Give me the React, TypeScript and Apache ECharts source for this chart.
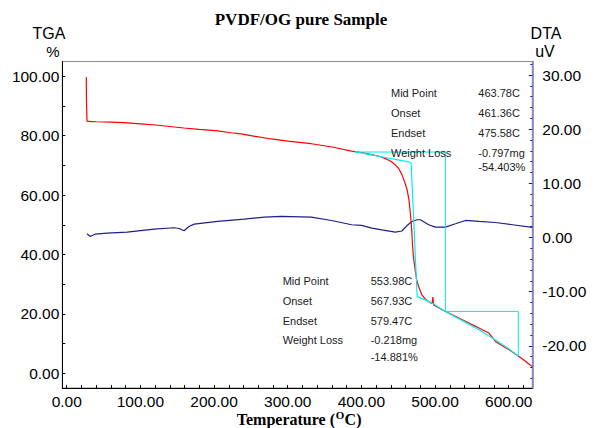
import React, { useEffect, useRef } from "react";
import * as echarts from "echarts";

// ---------- data ----------
const xLabelValues = [0, 100, 200, 300, 400, 500, 600];
const xTickValues = [0, 20, 40, 60, 80, 100, 120, 140, 160, 180, 200, 220, 240, 260, 280, 300, 320, 340, 360, 380, 400, 420, 440, 460, 480, 500, 520, 540, 560, 580, 600, 620];
const tgaLabelValues = [0, 20, 40, 60, 80, 100];
const tgaTickValues = [0, 10, 20, 30, 40, 50, 60, 70, 80, 90, 100];
const dtaLabelValues = [-20, -10, 0, 10, 20, 30];
const dtaMinorTickValues = [-26, -24, -22, -18, -16, -14, -12, -8, -6, -4, -2, 2, 4, 6, 8, 12, 14, 16, 18, 22, 24, 26, 28, 32];

const X_MIN = -6;
const X_MAX = 632;
const TGA_MIN = -5;
const TGA_MAX = 105;
const DTA_MIN = -27.8;
const DTA_MAX = 32.5;

// TGA (%) vs temperature
const tgaCurve: [number, number][] = [
  [26.6, 99.8], [26.8, 92], [27.5, 85.0], [29, 84.8], [40, 84.7], [60, 84.6], [77.5, 84.4],
  [100, 84.0], [120.7, 83.6], [140, 83.1], [159, 82.6], [180, 82.1], [205, 81.6], [223, 81.0],
  [237, 80.6], [250, 80.0], [277.6, 78.9], [300, 78.2], [332, 77.3], [360, 76.2], [386.7, 74.8],
  [400, 74.3], [414, 73.6], [425, 73.0], [434.5, 72.1], [441, 71.2], [446, 70.2], [451, 68.8],
  [455, 66.9], [459, 64.2], [462, 61.8], [464.5, 58.5], [466, 55], [467.5, 51], [468.5, 47.3],
  [469.5, 42.7], [471, 38.5], [473, 34.8], [475, 31.5], [477.7, 29.2], [482, 26.4], [486, 25.2],
  [491.4, 24.1], [496, 23.4], [497, 25.6], [498, 23.0], [503, 22.3], [514, 20.8], [525, 19.5],
  [537, 18.0], [548, 16.6], [559.6, 15.2], [566, 14.4], [573, 13.5], [577, 12.3], [582, 10.7],
  [590, 9.4], [600.5, 7.9], [607, 6.8], [614, 5.6], [620, 4.5], [627, 3.2], [632, 2.2],
];

// DTA (uV) vs temperature
const dtaCurve: [number, number][] = [
  [27.5, 0.68], [32, 0.18], [38.9, 0.63], [54.8, 0.81], [82, 1.0], [118.4, 1.55], [145.7, 1.8],
  [152.5, 1.66], [159.3, 1.24], [166, 2.03], [173, 2.47], [205, 2.96], [241, 3.4], [268.5, 3.77],
  [291, 3.88], [332, 3.77], [359.5, 3.14], [386.7, 2.35], [400.4, 2.22], [414, 1.74], [427.7, 1.42],
  [446, 1.0], [455, 1.2], [462, 2.2], [468.6, 2.96], [475.5, 3.27], [480, 3.27], [491.4, 2.35],
  [500.4, 1.92], [514, 1.92], [527.7, 2.53], [541.3, 3.14], [559.6, 2.96], [582, 2.77], [605, 2.35],
  [632, 1.85],
];

// analysis construction lines (TGA scale)
const step1Box: [number, number][] = [[391, 74.5], [514, 74.5], [514, 20.8]];
const step1Tangent: [number, number][] = [[391, 74.6], [464, 71.2], [467.5, 70.8], [475.7, 25.8], [486.8, 24.7], [495.9, 23.6], [514, 20.8]];
const step2Box: [number, number][] = [[514, 20.8], [613, 20.8], [613, 5.8]];
const step2Tangent: [number, number][] = [[514, 20.8], [537, 17.7], [559.6, 14.6], [582, 11.2], [600.5, 8.1], [613, 5.8]];

const step1Labels = ["Mid Point", "Onset", "Endset", "Weight Loss"];
const step1Values = ["463.78C", "461.36C", "475.58C", "-0.797mg", "-54.403%"];
const step2Labels = ["Mid Point", "Onset", "Endset", "Weight Loss"];
const step2Values = ["553.98C", "567.93C", "579.47C", "-0.218mg", "-14.881%"];

// ---------- chart ----------
const SANS = "'Liberation Sans', Arial, sans-serif";
const SERIF = "'Liberation Serif', 'Times New Roman', serif";
const fmt = (v: number) => Number(v).toFixed(2);

function annotationBlock(labels: string[], values: string[], lx: number, vx: number, ys: number[]) {
  const els: any[] = [];
  labels.forEach((t, i) => {
    els.push({
      type: "text", x: lx, y: ys[i], z: 100,
      style: { text: t, font: `11px ${SANS}`, fill: "#1a1a1a", align: "left", verticalAlign: "middle" },
    });
  });
  values.forEach((t, i) => {
    els.push({
      type: "text", x: vx, y: ys[i], z: 100,
      style: { text: t, font: `11px ${SANS}`, fill: "#1a1a1a", align: "left", verticalAlign: "middle" },
    });
  });
  return els;
}

export default function App() {
  const ref = useRef<HTMLDivElement>(null);
  useEffect(() => {
    if (!ref.current) return;
    const chart = echarts.init(ref.current, undefined, { renderer: "svg" });
    const tickLabel = { fontSize: 15.5, fontFamily: SANS, color: "#000" };
    const option: any = {
      animation: false,
      backgroundColor: "#ffffff",
      grid: {
        left: 62.3, right: 62.7, top: 61.5, bottom: 40,
        show: true, borderColor: "#8c8c8c", borderWidth: 1,
        outerBoundsMode: "none",
      },
      xAxis: {
        type: "value", min: X_MIN, max: X_MAX,
        axisLine: { show: true, onZero: false, lineStyle: { color: "#000", width: 1 } },
        axisTick: { show: true, inside: true, length: 3, customValues: xTickValues, lineStyle: { color: "#000" } },
        axisLabel: { ...tickLabel, customValues: xLabelValues, formatter: fmt, margin: 5.5 },
        splitLine: { show: false },
      },
      yAxis: [
        {
          type: "value", position: "left", min: TGA_MIN, max: TGA_MAX,
          axisLine: { show: true, onZero: false, lineStyle: { color: "#000", width: 1 } },
          axisTick: { show: true, inside: true, length: 3, customValues: tgaTickValues, lineStyle: { color: "#000" } },
          axisLabel: { ...tickLabel, customValues: tgaLabelValues, formatter: fmt, margin: 3 },
          splitLine: { show: false },
        },
        {
          type: "value", position: "right", min: DTA_MIN, max: DTA_MAX,
          axisLine: { show: true, onZero: false, lineStyle: { color: "#8080c8", width: 1.6 } },
          axisTick: { show: true, inside: true, length: 3.5, customValues: dtaLabelValues, lineStyle: { color: "#1e1e8c" } },
          axisLabel: { ...tickLabel, customValues: dtaLabelValues, formatter: fmt, margin: 10 },
          splitLine: { show: false },
        },
        {
          type: "value", position: "right", min: DTA_MIN, max: DTA_MAX,
          axisLine: { show: false, onZero: false },
          axisTick: { show: true, inside: true, length: 2, customValues: dtaMinorTickValues, lineStyle: { color: "#1e1e8c" } },
          axisLabel: { show: false },
          splitLine: { show: false },
        },
      ],
      series: [
        {
          name: "DTA", type: "line", yAxisIndex: 1, data: dtaCurve, showSymbol: false, symbol: "none",
          lineStyle: { color: "#1e1e8c", width: 1.2 }, z: 2,
        },
        {
          name: "TGA", type: "line", yAxisIndex: 0, data: tgaCurve, showSymbol: false, symbol: "none",
          lineStyle: { color: "#ff0000", width: 1.2 }, z: 3,
        },
        {
          type: "line", yAxisIndex: 0, data: step1Tangent, symbol: "none",
          lineStyle: { color: "#00f0f0", width: 1.2 }, z: 4,
        },
        {
          type: "line", yAxisIndex: 0, data: step1Box, symbol: "none",
          lineStyle: { color: "#00e8e8", width: 1 }, z: 4,
        },
        {
          type: "line", yAxisIndex: 0, data: step2Tangent, symbol: "none",
          lineStyle: { color: "#00f0f0", width: 1.2 }, z: 4,
        },
        {
          type: "line", yAxisIndex: 0, data: step2Box, symbol: "none",
          lineStyle: { color: "#00e8e8", width: 1 }, z: 4,
        },
      ],
      graphic: [
        {
          type: "text", x: 301, y: 19,
          style: { text: "PVDF/OG pure Sample", font: `bold 17px ${SERIF}`, fill: "#000", align: "center", verticalAlign: "middle" },
        },
        {
          type: "text", x: 49, y: 33.5,
          style: { text: "TGA", font: `16px ${SANS}`, fill: "#000", align: "center", verticalAlign: "middle" },
        },
        {
          type: "text", x: 53, y: 51.5,
          style: { text: "%", font: `15px ${SANS}`, fill: "#000", align: "center", verticalAlign: "middle" },
        },
        {
          type: "text", x: 546, y: 33.5,
          style: { text: "DTA", font: `16px ${SANS}`, fill: "#000", align: "center", verticalAlign: "middle" },
        },
        {
          type: "text", x: 545, y: 51.5,
          style: { text: "uV", font: `16px ${SANS}`, fill: "#000", align: "center", verticalAlign: "middle" },
        },
        {
          type: "text", x: 335, y: 419.5,
          style: { text: "Temperature (", font: `bold 16px ${SERIF}`, fill: "#000", align: "right", verticalAlign: "middle" },
        },
        {
          type: "text", x: 335.8, y: 415.2,
          style: { text: "O", font: `bold 11px ${SERIF}`, fill: "#000", align: "left", verticalAlign: "middle" },
        },
        {
          type: "text", x: 344.6, y: 419.5,
          style: { text: "C)", font: `bold 16px ${SERIF}`, fill: "#000", align: "left", verticalAlign: "middle" },
        },
        ...annotationBlock(step1Labels, step1Values, 391, 478.3, [92.7, 112.7, 132.7, 152.7, 167.3]),
        ...annotationBlock(step2Labels, step2Values, 282.7, 370.7, [280.7, 300.7, 320.7, 340, 356.7]),
      ],
    };
    chart.setOption(option);
    return () => chart.dispose();
  }, []);
  return (
    <div
      ref={ref}
      style={{ position: "fixed", left: 0, top: 0, width: 595, height: 428, background: "#fff" }}
    />
  );
}
